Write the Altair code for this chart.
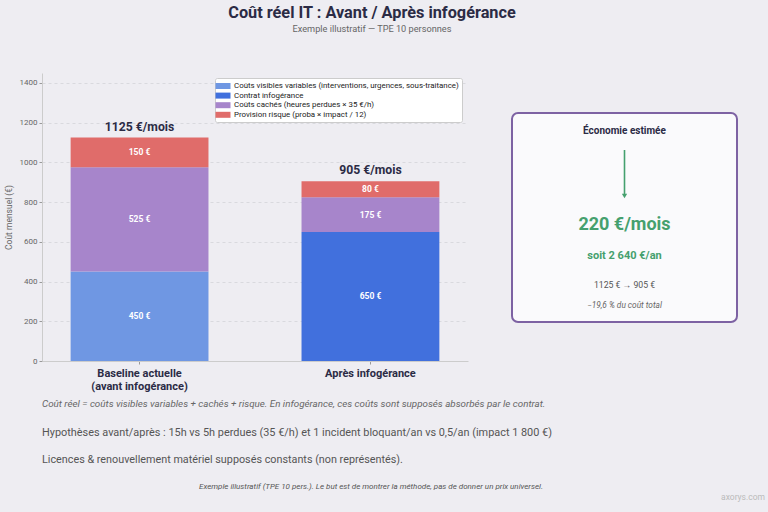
import altair as alt
import pandas as pd

# ---- data ----
categories = ["Baseline actuelle|(avant infogérance)", "Après infogérance"]
components = [
    "Coûts visibles variables (interventions, urgences, sous-traitance)",
    "Contrat infogérance",
    "Coûts cachés (heures perdues × 35 €/h)",
    "Provision risque (proba × impact / 12)",
]
visible = [450, 0]
contrat = [0, 650]
caches = [525, 175]
risque = [150, 80]
colors = ["#6f97e3", "#4170dd", "#a785cb", "#e06c6a"]
y_ticks = [0, 200, 400, 600, 800, 1000, 1200, 1400]

title_txt = "Coût réel IT : Avant / Après infogérance"
subtitle_txt = "Exemple illustratif — TPE 10 personnes"
panel_title = "Économie estimée"
saving_month = "220 €/mois"
saving_year = "soit 2 640 €/an"
saving_from_to = "1125 € → 905 €"
saving_pct = "−19,6 % du coût total"
note1 = "Coût réel = coûts visibles variables + cachés + risque. En infogérance, ces coûts sont supposés absorbés par le contrat."
note2 = "Hypothèses avant/après : 15h vs 5h perdues (35 €/h) et 1 incident bloquant/an vs 0,5/an (impact 1 800 €)"
note3 = "Licences & renouvellement matériel supposés constants (non représentés)."
note4 = "Exemple illustratif (TPE 10 pers.). Le but est de montrer la méthode, pas de donner un prix universel."
brand = "axorys.com"

# ---- tables ----
series = [visible, contrat, caches, risque]
rows = []
for ci, cat in enumerate(categories):
    base = 0
    for si, comp in enumerate(components):
        v = series[si][ci]
        if v > 0:
            rows.append({"cat": cat, "comp": comp, "val": v, "ord": si,
                         "mid": base + v / 2, "lab": f"{v} €"})
        base += v
df = pd.DataFrame(rows)
totals = pd.DataFrame({"cat": categories,
                       "tot": [sum(s[i] for s in series) for i in range(len(categories))]})
totals["lab"] = totals["tot"].astype(str) + " €/mois"

FONT = "Roboto"
DARK = "#2b2b45"
GREEN = "#45a06e"

xenc = alt.X("cat:N", sort=categories,
             scale=alt.Scale(paddingInner=0.403, paddingOuter=0.124),
             axis=alt.Axis(title=None, labelAngle=0, labelExpr="split(datum.label, '|')",
                           labelFontSize=11, labelFontWeight="bold", labelColor=DARK,
                           labelPadding=3, tickSize=3, tickColor="#999", domainColor="#cccccc",
                           labelLineHeight=13))
yscale = alt.Scale(domain=[0, 1450], nice=False)

bars = alt.Chart(df).mark_bar().encode(
    x=xenc,
    y=alt.Y("val:Q", stack="zero", scale=yscale,
            axis=alt.Axis(title="Coût mensuel (€)", values=y_ticks, format="d",
                          titleFontSize=8.5, titleColor="#666", titleFontWeight="normal",
                          labelFontSize=8, labelColor="#666", tickSize=3, tickColor="#999",
                          labelPadding=2, domainColor="#cccccc", gridColor="#d9d9de",
                          gridDash=[3, 3], titlePadding=6)),
    color=alt.Color("comp:N", scale=alt.Scale(domain=components, range=colors),
                    legend=alt.Legend(title=None, orient="none", legendX=173, legendY=5,
                                      fillColor="#ffffff", strokeColor="#cccccc",
                                      padding=3, labelFontSize=7.9, labelFont=FONT,
                                      labelColor="#222", rowPadding=0.6,
                                      symbolType="M-1.5,-0.6L1.5,-0.6L1.5,0.6L-1.5,0.6Z",
                                      symbolSize=100, symbolStrokeWidth=0,
                                      labelLimit=400, cornerRadius=2, labelOffset=6)),
    order=alt.Order("ord:Q"),
)

seg_labels = alt.Chart(df).mark_text(color="white", fontWeight="bold", fontSize=8.5,
                                     font=FONT).encode(
    x=alt.X("cat:N", sort=categories), y=alt.Y("mid:Q", scale=yscale), text="lab:N")

tot_labels = alt.Chart(totals).mark_text(color=DARK, fontWeight="bold", fontSize=12.2,
                                         font=FONT, dy=-11).encode(
    x=alt.X("cat:N", sort=categories), y=alt.Y("tot:Q", scale=yscale), text="lab:N")


def txt(s, x, y, **kw):
    return alt.Chart(pd.DataFrame({"t": [s]})).mark_text(font=FONT, **kw).encode(
        text="t:N", x=alt.value(x), y=alt.value(y))


panel = alt.Chart(pd.DataFrame({"k": [1]})).mark_rect(
    fill="#fafafc", stroke="#7d62a3", strokeWidth=2, cornerRadius=6).encode(
    x=alt.value(470), x2=alt.value(695), y=alt.value(40), y2=alt.value(249))

arrow = alt.Chart(pd.DataFrame({"k": [1]})).mark_rule(color=GREEN, strokeWidth=1.6).encode(
    x=alt.value(582.5), y=alt.value(77), y2=alt.value(121))
arrow_head = alt.Chart(pd.DataFrame({"k": [1]})).mark_point(
    shape="triangle-down", filled=True, color=GREEN, size=28, opacity=1).encode(
    x=alt.value(582.5), y=alt.value(123))

texts = [
    txt(title_txt, 330, -60, fontSize=16.3, fontWeight="bold", color=DARK),
    txt(subtitle_txt, 330, -44, fontSize=9.2, color="#666"),
    txt(panel_title, 582.5, 58, fontSize=10, fontWeight="bold", color=DARK),
    txt(saving_month, 582.5, 152, fontSize=18, fontWeight="bold", color=GREEN),
    txt(saving_year, 582.5, 183, fontSize=11, fontWeight="bold", color=GREEN),
    txt(saving_from_to, 582.5, 212, fontSize=8.7, color="#555"),
    txt(saving_pct, 582.5, 233, fontSize=8.3, fontStyle="italic", color="#666"),
    txt(note1, 0, 331, fontSize=9.8, fontStyle="italic", color="#666", align="left"),
    txt(note2, 0, 360, fontSize=10.9, color="#555", align="left"),
    txt(note3, 0, 387, fontSize=10.8, color="#555", align="left"),
    txt(note4, 329, 414, fontSize=8.0, fontStyle="italic", color="#555"),
    txt(brand, 723, 424, fontSize=8.5, color="#bbbbbb", align="right"),
]

chart = alt.layer(bars, seg_labels, tot_labels, panel, arrow, arrow_head, *texts).properties(
    width=426, height=288,
    autosize=alt.AutoSizeParams(type="none"),
    padding={"left": 42, "top": 73, "right": 300, "bottom": 151},
    background="#eeedf2",
).configure_view(stroke=None).configure_axis(labelFont=FONT, titleFont=FONT)

chart.save("out.html", embed_options={"renderer": "svg", "actions": False})
